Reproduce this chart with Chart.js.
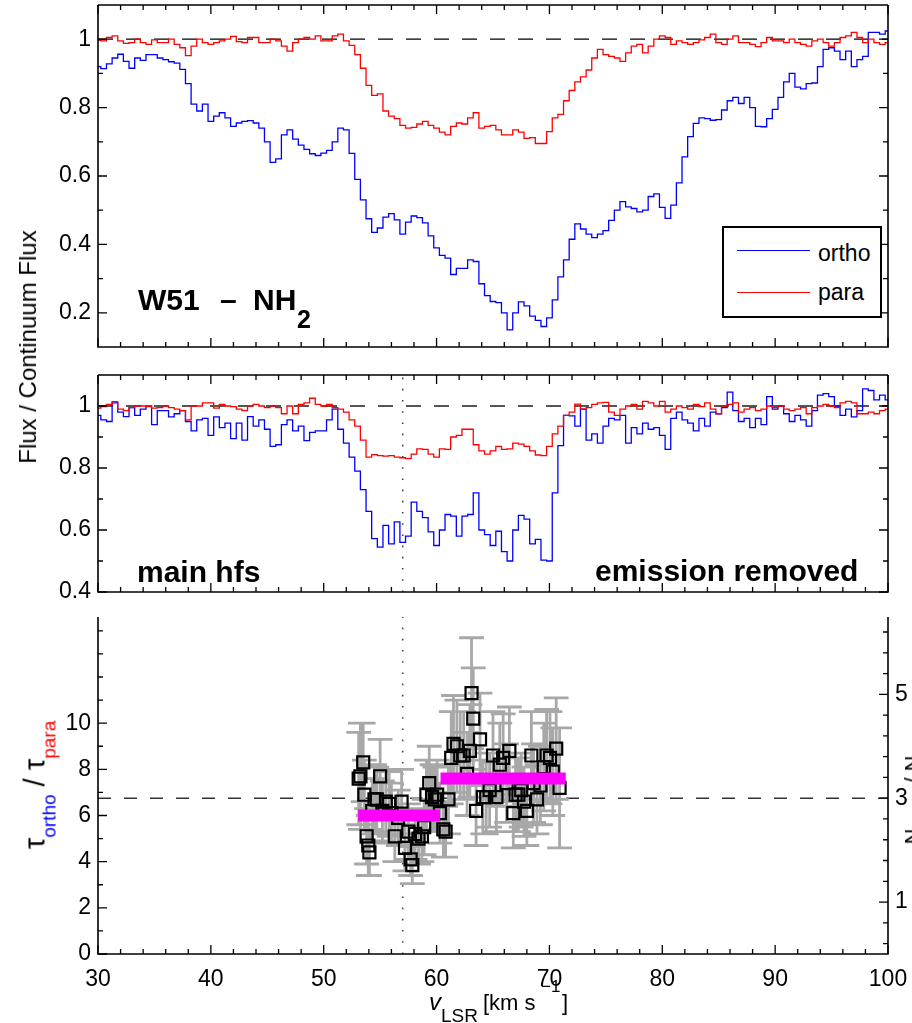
<!DOCTYPE html>
<html>
<head>
<meta charset="utf-8">
<script src="https://cdn.jsdelivr.net/npm/chart.js@4.4.1/dist/chart.umd.min.js"></script>
<style>
  html, body { margin: 0; padding: 0; background: #fff; overflow: hidden; }
  #wrap { position: relative; width: 912px; height: 1023px; overflow: hidden;
          font-family: "Liberation Sans", Arial, Helvetica, sans-serif; color: #000; }
  canvas { position: absolute; left: 0; }
  .txt { position: absolute; white-space: pre; line-height: 1; }
  .bold { font-weight: bold; }
  .rot { position: absolute; white-space: nowrap; line-height: 1;
         transform: translate(-50%, -50%) rotate(-90deg); }
  .sb { position: relative; line-height: 0; }
  #legend { position: absolute; left: 722px; top: 226px; width: 160px; height: 92px;
            box-sizing: border-box; border: 2px solid #000; background: #fff; }
  .lg-line { position: absolute; left: 737px; width: 73px; height: 1.4px; }
</style>
</head>
<body>
<div id="wrap">
  <canvas id="c1" width="912" height="360" style="top:0px"></canvas>
  <canvas id="c2" width="912" height="240" style="top:360px"></canvas>
  <canvas id="c3" width="912" height="423" style="top:600px"></canvas>

  <div class="rot" style="left:28px; top:347px; font-size:24px;">Flux / Continuum Flux</div>

  <div class="txt bold" style="left:138px; top:285px; font-size:30px;">W51</div>
  <div class="txt bold" style="left:220px; top:285px; font-size:30px;">–</div>
  <div class="txt bold" style="left:253px; top:285px; font-size:30px;">NH</div>
  <div class="txt bold" style="left:297px; top:307px; font-size:25px;">2</div>

  <div id="legend"></div>
  <div class="lg-line" style="top:250px; background:#0000ff;"></div>
  <div class="lg-line" style="top:292px; background:#ff0000;"></div>
  <div class="txt" style="left:818px; top:242px; font-size:23px;">ortho</div>
  <div class="txt" style="left:818px; top:281px; font-size:23px;">para</div>

  <div class="txt bold" style="left:137px; top:557px; font-size:30px;">main hfs</div>
  <div class="txt bold" style="left:595px; top:556px; font-size:30px;">emission removed</div>

  <div class="rot" style="left:35px; top:785px; font-size:29px;">τ<span class="sb" style="font-size:19px; top:11px; color:#0000ff;">ortho</span> / τ<span class="sb" style="font-size:19px; top:11px; color:#ff0000;">para</span></div>
  <div class="rot" style="left:913px; top:783px; font-size:22px;">N<span class="sb" style="font-size:17px; top:8px;">ortho</span> / N<span class="sb" style="font-size:17px; top:8px;">para</span></div>

  <div class="txt" style="left:429px; top:990px; font-size:24px; font-style:italic;">v</div>
  <div class="txt" style="left:441px; top:1006px; font-size:19px;">LSR</div>
  <div class="txt" style="left:483px; top:992px; font-size:22px;">[km s</div>
  <div class="txt" style="left:541px; top:978px; font-size:17px;">−1</div>
  <div class="txt" style="left:562px; top:992px; font-size:22px;">]</div>
</div>

<script>
// channel velocities (km/s)
const velocity = [
  30, 30.5, 31, 31.5, 32, 32.5, 33, 33.5, 34, 34.5, 35, 35.5, 36, 36.5, 37, 37.5, 38, 38.5, 39, 39.5,
  40, 40.5, 41, 41.5, 42, 42.5, 43, 43.5, 44, 44.5, 45, 45.5, 46, 46.5, 47, 47.5, 48, 48.5, 49, 49.5,
  50, 50.5, 51, 51.5, 52, 52.5, 53, 53.5, 54, 54.5, 55, 55.5, 56, 56.5, 57, 57.5, 58, 58.5, 59, 59.5,
  60, 60.5, 61, 61.5, 62, 62.5, 63, 63.5, 64, 64.5, 65, 65.5, 66, 66.5, 67, 67.5, 68, 68.5, 69, 69.5,
  70, 70.5, 71, 71.5, 72, 72.5, 73, 73.5, 74, 74.5, 75, 75.5, 76, 76.5, 77, 77.5, 78, 78.5, 79, 79.5,
  80, 80.5, 81, 81.5, 82, 82.5, 83, 83.5, 84, 84.5, 85, 85.5, 86, 86.5, 87, 87.5, 88, 88.5, 89, 89.5,
  90, 90.5, 91, 91.5, 92, 92.5, 93, 93.5, 94, 94.5, 95, 95.5, 96, 96.5, 97, 97.5, 98, 98.5, 99, 99.5,
  100
];

// top panel: full spectra
const topOrtho = [
  0.92, 0.914, 0.928, 0.945, 0.956, 0.935, 0.915, 0.945, 0.938, 0.955,
  0.955, 0.945, 0.94, 0.934, 0.93, 0.912, 0.87, 0.81, 0.79, 0.81,
  0.76, 0.775, 0.785, 0.77, 0.745, 0.755, 0.76, 0.762, 0.755, 0.74,
  0.70, 0.64, 0.65, 0.72, 0.735, 0.708, 0.69, 0.678, 0.665, 0.66,
  0.667, 0.675, 0.70, 0.74, 0.735, 0.666, 0.59, 0.53, 0.475, 0.435,
  0.448, 0.48, 0.49, 0.472, 0.43, 0.465, 0.483, 0.478, 0.463, 0.425,
  0.39, 0.368, 0.36, 0.312, 0.33, 0.33, 0.355, 0.35, 0.285, 0.25,
  0.233, 0.23, 0.2, 0.15, 0.2, 0.232, 0.22, 0.19, 0.178, 0.16,
  0.185, 0.238, 0.305, 0.355, 0.415, 0.46, 0.445, 0.43, 0.42, 0.43,
  0.44, 0.47, 0.5, 0.525, 0.51, 0.505, 0.495, 0.5, 0.54, 0.548,
  0.508, 0.476, 0.515, 0.58, 0.656, 0.715, 0.754, 0.77, 0.768, 0.763,
  0.765, 0.793, 0.82, 0.83, 0.812, 0.83, 0.8, 0.745, 0.744, 0.768,
  0.795, 0.83, 0.875, 0.9, 0.86, 0.855, 0.87, 0.872, 0.92, 0.97,
  0.975, 0.965, 0.94, 0.965, 0.92, 0.94, 0.95, 1.02, 1.02, 1.015,
  1.024
];
const topPara = [
  0.997, 0.995, 1.005, 1.01, 0.995, 0.988, 0.99, 1.0, 0.99, 0.985,
  0.998, 0.99, 0.99, 1.0, 0.985, 0.975, 0.952, 0.98, 1.0, 0.99,
  0.985, 0.99, 0.995, 1.0, 1.008, 0.993, 0.99, 1.005, 1.005, 0.99,
  0.99, 1.0, 0.995, 0.98, 0.965, 0.99, 1.0, 1.005, 1.0, 1.01,
  0.995, 0.995, 1.01, 1.015, 0.995, 0.982, 0.955, 0.915, 0.865, 0.836,
  0.84, 0.79, 0.775, 0.768, 0.748, 0.74, 0.742, 0.752, 0.76, 0.748,
  0.74, 0.728, 0.72, 0.745, 0.755, 0.752, 0.77, 0.785, 0.74, 0.745,
  0.748, 0.735, 0.72, 0.72, 0.735, 0.728, 0.71, 0.712, 0.695, 0.695,
  0.73, 0.77, 0.78, 0.82, 0.85, 0.875, 0.89, 0.91, 0.945, 0.97,
  0.955, 0.95, 0.945, 0.935, 0.96, 0.98, 0.985, 0.96, 0.98, 1.0,
  1.01, 1.005, 0.985, 0.995, 0.99, 0.985, 0.99, 0.998, 1.005, 1.015,
  0.99, 0.985, 1.0, 1.01, 0.99, 0.99, 0.985, 0.978, 0.99, 1.005,
  0.995, 0.995, 0.99, 1.0, 0.99, 0.985, 0.98, 0.995, 1.0, 0.99,
  0.98, 0.99, 1.005, 1.01, 1.02, 1.005, 0.99, 1.0, 0.99, 0.985,
  0.99
];

// middle panel: main hyperfine component, emission removed
const midOrtho = [
  0.97, 0.955, 0.95, 1.01, 0.98, 0.966, 0.995, 0.97, 0.99, 1.0,
  0.94, 0.985, 0.985, 0.965, 0.975, 0.985, 0.95, 0.92, 0.955, 0.96,
  0.905, 0.965, 0.93, 0.945, 0.895, 0.945, 0.89, 0.966, 0.935, 0.955,
  0.925, 0.87, 0.875, 0.94, 0.955, 0.92, 0.935, 0.888, 0.915, 0.92,
  0.92, 0.955, 0.99, 0.925, 0.88, 0.835, 0.79, 0.73, 0.66, 0.572,
  0.545, 0.615, 0.555, 0.626, 0.56, 0.58, 0.69, 0.66, 0.64, 0.594,
  0.55, 0.6, 0.65, 0.645, 0.58, 0.645, 0.65, 0.72, 0.6, 0.585,
  0.55, 0.596, 0.53, 0.5, 0.6, 0.647, 0.635, 0.555, 0.57, 0.503,
  0.5, 0.72, 0.872, 0.97, 0.968, 0.935, 0.99, 0.89, 0.91, 0.88,
  0.935, 0.96, 0.955, 0.97, 0.88, 0.93, 0.91, 0.945, 0.925, 0.93,
  0.905, 0.86, 0.96, 0.98, 0.955, 0.945, 0.92, 0.96, 0.935, 0.98,
  0.975, 0.995, 1.045, 0.985, 0.95, 0.96, 0.93, 0.96, 0.94, 1.03,
  0.99, 1.0, 0.975, 0.95, 0.97, 0.955, 0.935, 0.985, 1.035, 1.04,
  1.03, 1.0, 0.97, 0.99, 0.965, 0.985, 1.055, 1.05, 1.02, 1.035,
  1.02
];
const midPara = [
  0.993, 0.998, 1.005, 1.014, 0.99, 0.985, 0.995, 1.0, 1.0, 0.998,
  0.993, 0.995, 1.0, 0.995, 0.99, 0.985, 0.955, 1.0, 1.0, 1.01,
  1.01, 0.993, 1.005, 1.0, 0.998, 0.99, 0.985, 1.0, 1.005, 1.0,
  0.995, 1.0, 0.995, 0.975, 1.0, 0.975, 1.005, 1.01, 1.025, 1.005,
  1.0, 1.005, 0.995, 0.99, 0.98, 0.955, 0.935, 0.89, 0.835, 0.843,
  0.84, 0.838, 0.84, 0.835, 0.833, 0.83, 0.845, 0.862, 0.86, 0.845,
  0.835, 0.862, 0.86, 0.9, 0.905, 0.925, 0.925, 0.875, 0.855, 0.845,
  0.855, 0.87, 0.86, 0.862, 0.88, 0.877, 0.87, 0.855, 0.842, 0.84,
  0.87, 0.91, 0.935, 0.97, 0.98, 1.006, 0.99, 0.995, 1.005, 1.01,
  1.012, 0.98, 0.97, 0.99, 1.0, 1.005, 0.99, 1.015, 1.01, 1.0,
  1.015, 0.98, 0.99, 1.0, 0.995, 0.99, 1.005, 0.998, 1.01, 0.99,
  0.975, 1.0, 1.005, 1.01, 0.98, 0.99, 0.995, 0.985, 0.99, 1.0,
  0.995, 1.0, 0.99, 0.985, 0.99, 0.995, 0.975, 0.995, 1.0, 1.005,
  1.0, 0.995, 1.01, 1.015, 1.01, 0.975, 0.975, 0.98, 0.975, 0.985,
  0.99
];

// bottom panel: tau_ortho / tau_para per channel
const ratioVel = [
  53.1, 53.25, 53.5, 53.6, 53.8, 53.95, 54.05, 54.3, 54.5, 54.7, 55.0, 55.2, 55.5, 55.8, 56.0,
  56.3, 56.6, 56.9, 57.2, 57.5, 57.7, 57.85, 58.1, 58.4, 58.7, 58.9, 59.1, 59.35, 59.6, 59.85,
  60.05, 60.3, 60.6, 60.8, 61.05,
  61.3, 61.5, 61.8, 62.1, 62.4, 62.7, 62.95, 63.1, 63.25, 63.5, 63.85, 64.1, 64.4, 64.7, 65.0,
  65.3, 65.6, 65.9, 66.2, 66.45, 66.8, 67.0, 67.25, 67.5, 67.75, 68.0, 68.4, 68.6, 68.9, 69.2,
  69.5, 69.75, 70.05, 70.3, 70.6, 70.9
];
const ratioVal = [
  7.6, 7.7, 8.3, 6.9, 5.1, 4.7, 4.4, 6.2, 6.7, 6.7, 7.7, 6.2, 6.6, 6.5, 6.1,
  5.1, 5.9, 6.6, 4.6, 5.3, 4.1, 3.85, 5.2, 5.0, 5.1, 5.5, 6.9, 7.4, 6.8, 6.7,
  6.9, 6.1, 5.4, 5.3, 6.7,
  8.5, 9.1, 9.0, 8.6, 8.6, 7.8, 8.8, 11.3, 10.2, 6.2, 9.3, 6.8, 6.8, 7.1, 8.6,
  6.8, 8.2, 8.5, 7.4, 8.8, 6.1, 6.9, 6.9, 7.1, 6.6, 6.2, 8.6, 7.4, 6.7, 7.3,
  8.1, 8.6, 8.5, 7.9, 8.9, 7.2
];
const ratioErr = [
  2.0, 2.3, 1.7, 1.5, 1.2, 1.3, 1.0, 1.4, 1.5, 1.4, 1.6, 1.3, 1.4, 1.4, 1.3,
  1.1, 1.2, 1.4, 1.0, 1.2, 0.7, 0.8, 1.1, 1.1, 1.1, 1.2, 1.5, 1.6, 1.4, 1.4,
  1.5, 1.3, 1.2, 1.1, 1.5,
  2.0, 2.1, 2.0, 1.9, 1.9, 1.8, 2.0, 2.4, 2.2, 1.5, 2.0, 1.6, 1.6, 1.6, 1.9,
  1.5, 1.8, 1.9, 1.7, 1.9, 1.5, 1.6, 1.6, 1.6, 1.5, 1.5, 1.9, 1.7, 1.5, 1.7,
  1.9, 2.0, 2.0, 1.9, 2.2, 2.6
];

// mean ratios over the two velocity ranges
const meanStart = [53.05, 60.35];
const meanEnd = [60.3, 71.45];
const meanLevel = [6.0, 7.6];

const CONTINUUM = 1;
const RATIO_REF = 6.75;   // tau ratio for N ratio = 3
const V_MARK = 57;

// ticks
const xTickLabels = [30, 40, 50, 60, 70, 80, 90, 100];
const xMinorTicks = [32, 34, 36, 38, 42, 44, 46, 48, 52, 54, 56, 58, 62, 64, 66, 68,
                     72, 74, 76, 78, 82, 84, 86, 88, 92, 94, 96, 98];
const topYTicks = [0.2, 0.4, 0.6, 0.8, 1];
const topYMinor = [0.3, 0.5, 0.7, 0.9];
const midYTicks = [0.4, 0.6, 0.8, 1];
const midYMinor = [0.5, 0.7, 0.9];
const tauTicks = [0, 2, 4, 6, 8, 10];
const tauMinor = [1, 3, 5, 7, 9, 11, 12, 13, 14];
const nTicks = [1, 3, 5];
const nMinor = [0.2, 0.6, 1.4, 1.8, 2.2, 2.6, 3.4, 3.8, 4.2, 4.6, 5.4, 5.8, 6.2];

const FONT = '"Liberation Sans", Arial, Helvetica, sans-serif';
const CAP = 1.1; // half width of error bar caps, km/s

function pts(ys) { return velocity.map((v, i) => ({ x: v, y: ys[i] })); }

function fixedAxis(width, height) {
  return function (scale) {
    if (width != null) scale.width = width;
    if (height != null) scale.height = height;
    scale.paddingTop = 0; scale.paddingBottom = 0;
    scale.paddingLeft = 0; scale.paddingRight = 0;
  };
}

function setTicks(values) {
  return function (scale) { scale.ticks = values.map(v => ({ value: v })); };
}

function yAxis(min, max, ticks, width, position) {
  return {
    type: 'linear', position: position, min: min, max: max,
    grid: { display: false, drawTicks: false },
    border: { display: false },
    ticks: { font: { family: FONT, size: 23 }, color: '#000', padding: 7, callback: v => String(v) },
    afterBuildTicks: setTicks(ticks),
    afterFit: fixedAxis(width, null)
  };
}

// box + inward ticks, drawn through the chart's own scales
const framePlugin = {
  id: 'frame',
  afterDatasetsDraw(chart, args, opts) {
    const { ctx, chartArea: a } = chart;
    ctx.save();
    ctx.strokeStyle = '#000';
    ctx.lineWidth = 1.6;
    ctx.beginPath();
    if (opts.top) { ctx.moveTo(a.left, a.top); ctx.lineTo(a.right, a.top); }
    ctx.moveTo(a.left, a.top); ctx.lineTo(a.left, a.bottom); ctx.lineTo(a.right, a.bottom); ctx.lineTo(a.right, a.top);
    ctx.stroke();

    ctx.lineWidth = 1.3;
    ctx.beginPath();
    for (const side of ['left', 'right', 'bottom', 'top']) {
      const s = opts[side];
      if (!s) continue;
      const scale = chart.scales[s.scale];
      const tick = (v, len) => {
        const p = scale.getPixelForValue(v);
        if (side === 'left') { ctx.moveTo(a.left, p); ctx.lineTo(a.left + len, p); }
        if (side === 'right') { ctx.moveTo(a.right, p); ctx.lineTo(a.right - len, p); }
        if (side === 'bottom') { ctx.moveTo(p, a.bottom); ctx.lineTo(p, a.bottom - len); }
        if (side === 'top') { ctx.moveTo(p, a.top); ctx.lineTo(p, a.top + len); }
      };
      s.major.forEach(v => tick(v, 9));
      s.minor.forEach(v => tick(v, 5));
    }
    ctx.stroke();
    ctx.restore();
  }
};

const baseLine = { pointRadius: 0, pointHoverRadius: 0, fill: false, tension: 0 };

function spectrumChart(id, yMin, yMax, yTicks, yMinor, ortho, para, refStyle, withMark, pad) {
  const datasets = [
    Object.assign({ data: pts(para), borderColor: '#ff0000', borderWidth: 1.3, stepped: 'middle', order: 0 }, baseLine),
    Object.assign({ data: pts(ortho), borderColor: '#0000ff', borderWidth: 1.3, stepped: 'middle', order: 1 }, baseLine),
    Object.assign({ data: [{ x: 30, y: CONTINUUM }, { x: 100, y: CONTINUUM }], order: 2 }, baseLine, refStyle)
  ];
  if (withMark) {
    datasets.push(Object.assign({ data: [{ x: V_MARK, y: yMin }, { x: V_MARK, y: yMax }],
      borderColor: '#444', borderWidth: 1.6, borderDash: [1.6, 9.6], order: 3 }, baseLine));
  }
  const axisBox = { major: yTicks, minor: yMinor };
  return new Chart(document.getElementById(id), {
    type: 'line',
    data: { datasets },
    plugins: [framePlugin],
    options: {
      responsive: false, animation: false, events: [], devicePixelRatio: 1,
      layout: { padding: pad },
      plugins: {
        legend: { display: false }, tooltip: { enabled: false },
        frame: {
          left: Object.assign({ scale: 'y' }, axisBox),
          right: Object.assign({ scale: 'y' }, axisBox),
          bottom: { scale: 'x', major: xTickLabels, minor: xMinorTicks },
          top: { scale: 'x', major: xTickLabels, minor: xMinorTicks }
        }
      },
      scales: {
        x: { type: 'linear', min: 30, max: 100, display: false },
        y: yAxis(yMin, yMax, yTicks, 98, 'left')
      }
    }
  });
}

spectrumChart('c1', 0.1, 1.1, topYTicks, topYMinor, topOrtho, topPara,
  { borderColor: '#000', borderWidth: 1.3, borderDash: [15, 13] }, false,
  { top: 5, right: 24, bottom: 13, left: 0 });

spectrumChart('c2', 0.4, 1.1, midYTicks, midYMinor, midOrtho, midPara,
  { borderColor: '#555', borderWidth: 2, borderDash: [15, 13] }, true,
  { top: 15, right: 24, bottom: 8, left: 0 });

// bottom panel
const errSegments = [];
ratioVel.forEach((v, i) => {
  const lo = ratioVal[i] - ratioErr[i], hi = ratioVal[i] + ratioErr[i];
  errSegments.push(
    { x: v, y: lo }, { x: v, y: hi }, { x: v, y: null },
    { x: v - CAP, y: hi }, { x: v + CAP, y: hi }, { x: v, y: null },
    { x: v - CAP, y: lo }, { x: v + CAP, y: lo }, { x: v, y: null });
});

const TAU_MAX = 14.6;
const N_FACTOR = RATIO_REF / 3;

const bottomSets = [];
meanStart.forEach((s, i) => {
  bottomSets.push(Object.assign({ data: [{ x: s, y: meanLevel[i] }, { x: meanEnd[i], y: meanLevel[i] }],
    borderColor: '#ff00ff', borderWidth: 12, borderCapStyle: 'butt', order: 0 }, baseLine));
});
bottomSets.push({
  data: ratioVel.map((v, i) => ({ x: v, y: ratioVal[i] })),
  showLine: false, pointStyle: 'rect', pointRadius: 8.5, pointHoverRadius: 8.5,
  pointBorderColor: '#000', pointBackgroundColor: 'rgba(0,0,0,0)', pointBorderWidth: 2.2, order: 1
});
bottomSets.push(Object.assign({ data: errSegments, borderColor: '#a8a8a8', borderWidth: 2.8, spanGaps: false, order: 2 }, baseLine));
bottomSets.push(Object.assign({ data: [{ x: 30, y: RATIO_REF }, { x: 100, y: RATIO_REF }],
  borderColor: '#000', borderWidth: 1.2, borderDash: [13, 13], order: 3 }, baseLine));
bottomSets.push(Object.assign({ data: [{ x: V_MARK, y: 0 }, { x: V_MARK, y: TAU_MAX }],
  borderColor: '#444', borderWidth: 1.6, borderDash: [1.6, 9.6], order: 4 }, baseLine));

new Chart(document.getElementById('c3'), {
  type: 'line',
  data: { datasets: bottomSets },
  plugins: [framePlugin],
  options: {
    responsive: false, animation: false, events: [], devicePixelRatio: 1,
    layout: { padding: { top: 17, right: 0, bottom: 0, left: 0 } },
    plugins: {
      legend: { display: false }, tooltip: { enabled: false },
      frame: {
        left: { scale: 'y', major: tauTicks, minor: tauMinor },
        right: { scale: 'y2', major: nTicks, minor: nMinor },
        bottom: { scale: 'x', major: xTickLabels, minor: xMinorTicks }
      }
    },
    scales: {
      x: {
        type: 'linear', min: 30, max: 100, position: 'bottom',
        grid: { display: false, drawTicks: false }, border: { display: false },
        ticks: { font: { family: FONT, size: 23 }, color: '#000', padding: 12, maxRotation: 0, callback: v => String(v) },
        afterBuildTicks: setTicks(xTickLabels),
        afterFit: fixedAxis(null, 69)
      },
      y: yAxis(0, TAU_MAX, tauTicks, 98, 'left'),
      y2: yAxis(0, TAU_MAX / N_FACTOR, nTicks, 24, 'right')
    }
  }
});
</script>
</body>
</html>
